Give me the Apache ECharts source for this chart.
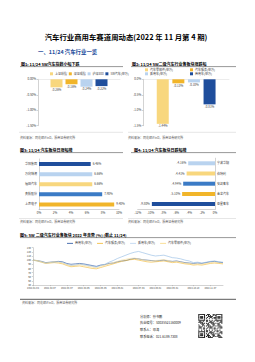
<!DOCTYPE html>
<html><head><meta charset="utf-8">
<script src="https://cdn.jsdelivr.net/npm/echarts@6/dist/echarts.min.js"></script>
<style>html,body{margin:0;padding:0;background:#fff}#c{width:255px;height:362px}</style>
</head><body><div id="c"></div>
<script>
// ---------- DATA ----------
const idxNames = ['上证综指', '深证成指', '沪深300', 'SW汽车(申万)'];
const idxValues = [-0.26, -0.16, -0.24, -0.22];

const subNames = ['汽车零部件(申万)', '汽车服务(申万)', '乘用车(申万)', '商用车(申万)'];
const subValues = [-1.44, -0.13, -0.10, -0.81];

const gainNames = ['华阳集团', '万向钱潮', '福田汽车', '贵航股份', '上声电子'];
const gainValues = [6.46, 6.66, 6.66, 7.90, 9.40];

const lossNames = ['宁波华翔', '伯特利', '安凯客车', '金龙汽车', '亚星客车'];
const lossValues = [-4.16, -4.41, -4.94, -5.10, -9.80];

const trendDates = ['2022-01-04','2022-01-10','2022-01-17','2022-01-24','2022-02-07','2022-02-14','2022-02-21','2022-02-28',
  '2022-03-07','2022-03-14','2022-03-21','2022-03-28','2022-04-06','2022-04-11','2022-04-18','2022-04-25',
  '2022-05-05','2022-05-09','2022-05-16','2022-05-23','2022-06-01','2022-06-06','2022-06-13','2022-06-20','2022-06-27',
  '2022-07-04','2022-07-11','2022-07-18','2022-07-25','2022-08-01','2022-08-08','2022-08-15','2022-08-22',
  '2022-09-01','2022-09-08','2022-09-15','2022-09-22','2022-09-29','2022-10-10','2022-10-17','2022-10-24','2022-10-31',
  '2022-11-07','2022-11-14','2022-11-21','2022-11-24'];
const trendNames = ['商用车(申万)', '汽车服务(申万)', '乘用车(申万)', '汽车零部件(申万)'];
const trendCommercial = [100,99,97,94,95,96,97,96,92,90,91,92,91,89,87,85,88,89,92,93,96,98,99,102,104,103,101,100,99,98,99,100,98,97,98,96,94,93,92,93,92,94,96,97,95,94];
const trendService    = [100,98,95,92,93,94,93,91,87,84,85,86,84,82,80,79,82,85,88,91,94,97,99,101,102,100,98,96,95,96,97,98,96,94,95,93,91,90,88,89,88,90,92,93,92,91];
const trendPassenger  = [100,98,96,93,94,95,96,94,90,87,88,90,89,87,85,83,87,90,95,99,104,108,112,116,119,121,118,115,112,110,111,112,109,106,105,103,100,98,94,95,93,95,97,98,96,95];
const trendParts      = [100,99,96,93,94,96,95,93,89,86,87,89,87,85,83,81,85,88,91,94,97,100,102,104,105,103,101,99,98,99,100,101,99,96,97,95,93,92,90,91,90,92,94,95,93,92];
const trendTicks = {min: 40, max: 130, interval: 10};

// ---------- STYLE ----------
const FONT = '"Noto Sans CJK SC","Noto Sans",sans-serif';
const C_LY = '#f8d77e', C_OR = '#f1b52a', C_LB = '#b9d3ef', C_MB = '#3b7bc6', C_DB = '#1f4e9c';
const idxColors = [C_LY, C_OR, C_LB, C_DB];
const subColors = [C_LY, C_OR, C_LB, C_DB];
const gainColors = [C_DB, C_LB, C_LY, C_MB, C_OR];
const lossColors = [C_LB, C_LY, C_MB, C_OR, C_DB];
const trendColors = [C_DB, C_OR, '#8fb8e3', '#f6dc95'];
const smallTxt = {fontSize: 3, color: '#404040', fontFamily: FONT};
const axisLineStyle = {lineStyle: {color: '#a6a6a6', width: 0.5}};

function pct2(v){ return v.toFixed(2) + '%'; }

const chart = echarts.init(document.getElementById('c'), null, {renderer: 'svg'});

const series = [];
idxNames.forEach((n, i) => series.push({
  type: 'bar', name: n, xAxisIndex: 0, yAxisIndex: 0, data: [idxValues[i]],
  barWidth: 12, barGap: '25%', itemStyle: {color: idxColors[i]},
  label: {show: true, position: 'bottom', distance: 1, ...smallTxt, formatter: p => pct2(p.value)}
}));
subNames.forEach((n, i) => series.push({
  type: 'bar', name: n, xAxisIndex: 1, yAxisIndex: 1, data: [subValues[i]],
  barWidth: 12, barGap: '30%', itemStyle: {color: subColors[i]},
  label: {show: true, position: 'bottom', distance: 1, ...smallTxt, formatter: p => pct2(p.value)}
}));
series.push({
  type: 'bar', xAxisIndex: 2, yAxisIndex: 2, barWidth: 4,
  data: gainValues.map((v, i) => ({value: v, itemStyle: {color: gainColors[i]}})),
  label: {show: true, position: 'right', distance: 2, ...smallTxt, formatter: p => pct2(p.value)}
});
series.push({
  type: 'bar', xAxisIndex: 3, yAxisIndex: 3, barWidth: 4,
  data: lossValues.map((v, i) => ({value: v, itemStyle: {color: lossColors[i]}})),
  label: {show: true, position: 'left', distance: 2, ...smallTxt, formatter: p => pct2(p.value)}
});
[trendCommercial, trendService, trendPassenger, trendParts].forEach((d, i) => series.push({
  type: 'line', name: trendNames[i], xAxisIndex: 4, yAxisIndex: 4, data: d,
  showSymbol: false, lineStyle: {width: 0.6, color: trendColors[i]}, itemStyle: {color: trendColors[i]}
}));

function monthLabel(index, value){
  return index === 0 || value.slice(5, 7) !== trendDates[index - 1].slice(5, 7);
}

const noAxis = {show: true, axisLine: {show: false}, axisTick: {show: false}, axisLabel: {show: false}, splitLine: {show: false}};

// texts & decorations
const g = [];
function txt(t, x, y, size, opt){
  g.push({type: 'text', x: x, y: y, silent: true, style: Object.assign({text: t, font: (opt && opt.bold ? 'bold ' : '') + size + 'px ' + FONT,
    fill: (opt && opt.fill) || '#000', textAlign: (opt && opt.align) || 'left', textVerticalAlign: 'middle'})});
}
function hline(x1, x2, y, w, c){
  g.push({type: 'line', silent: true, shape: {x1: x1, y1: y, x2: x2, y2: y}, style: {stroke: c, lineWidth: w}});
}
txt('汽车行业商用车赛道周动态(2022 年 11 月第 4 期)', 126, 36, 7.4, {bold: true, align: 'center'});
txt('一、11/24 汽车行业一览', 38, 51.7, 5.4, {bold: true, fill: '#1f4e9c'});
txt('图1: 11/24 SW汽车指数小幅下跌', 21, 64, 4, {bold: true});
txt('图2: 11/24 SW二级汽车行业各板块涨跌幅', 132, 64, 4, {bold: true});
txt('图3: 11/24 汽车板块日涨幅榜', 20, 150, 4, {bold: true});
txt('图4: 11/24 汽车板块日跌幅榜', 134, 150, 4, {bold: true});
txt('图5: SW 二级汽车行业各板块 2022 年走势 (%) (截止 11/24)', 20, 235, 4, {bold: true});
hline(20, 123, 66.6, 0.5, '#333');
hline(131, 236, 66.6, 0.5, '#333');
hline(20, 123, 152.6, 0.5, '#333');
hline(131, 236, 152.6, 0.5, '#333');
hline(20, 236, 237.6, 0.5, '#333');
hline(19, 123, 132.3, 0.4, '#bfbfbf');
hline(128, 236, 132.3, 0.4, '#bfbfbf');
hline(19, 123, 218.5, 0.4, '#bfbfbf');
hline(128, 236, 218.5, 0.4, '#bfbfbf');
hline(20, 236, 299.3, 1, '#595959');
const SRC = '资料来源：同花顺iFinD，浙商证券研究所';
txt(SRC, 20, 137.6, 3, {fill: '#595959'});
txt(SRC, 128, 137.6, 3, {fill: '#595959'});
txt(SRC, 20, 221.7, 3, {fill: '#595959'});
txt(SRC, 128, 221.7, 3, {fill: '#595959'});
txt(SRC, 22, 303.3, 3, {fill: '#595959'});
txt('分析师：孙书鹏', 140, 316.7, 3.2, {fill: '#262626'});
txt('执业编号：S0035521160009', 140, 322.7, 3.2, {fill: '#262626'});
txt('联系人：邓涛', 140, 329.3, 3.2, {fill: '#262626'});
txt('联系电话：021-6189-7308', 140, 336.3, 3.2, {fill: '#262626'});
// decorative QR-like block
(function(){
  const N = 25, ox = 198.3, oy = 314, s = 24 / N;
  function finder(cx, cy){ return (i, j) => { const a = i - cx, b = j - cy; if (a < 0 || b < 0 || a > 6 || b > 6) return null;
    return (a === 0 || a === 6 || b === 0 || b === 6 || (a >= 2 && a <= 4 && b >= 2 && b <= 4)); }; }
  const fs = [finder(0, 0), finder(N - 7, 0), finder(0, N - 7)];
  for (let i = 0; i < N; i++) for (let j = 0; j < N; j++) {
    let on = null;
    for (const f of fs) { const r = f(i, j); if (r !== null) on = r; }
    if (on === null) on = ((i * 31 + j * 17 + i * j * 7) % 11) < 5;
    if (on) g.push({type: 'rect', silent: true, shape: {x: ox + i * s, y: oy + j * s, width: s + 0.05, height: s + 0.05}, style: {fill: '#1a1a1a'}});
  }
})();

const option = {
  backgroundColor: '#fff',
  animation: false,
  textStyle: {fontFamily: FONT},
  grid: [
    {left: 38, top: 79.3, width: 82, height: 46.4, outerBoundsMode: 'none'},
    {left: 143.3, top: 79.3, width: 85.7, height: 46.4, outerBoundsMode: 'none'},
    {left: 39, top: 159, width: 80, height: 50.5, outerBoundsMode: 'none'},
    {left: 137.7, top: 158.2, width: 77.3, height: 51, outerBoundsMode: 'none'},
    {left: 33, top: 247.7, width: 190, height: 37.3, outerBoundsMode: 'none'}
  ],
  legend: [
    {data: idxNames, left: 50, top: 72.3, padding: 0, itemWidth: 3, itemHeight: 3, itemGap: 1.8, icon: 'rect', textStyle: {...smallTxt, padding: [0, 0, 0, -3]}, selectedMode: false},
    {data: [subNames[0], subNames[2]], orient: 'vertical', left: 145, top: 68.3, padding: 0, itemWidth: 3, itemHeight: 3, itemGap: 1, icon: 'rect', textStyle: {...smallTxt, padding: [0, 0, 0, -3]}, selectedMode: false},
    {data: [subNames[1], subNames[3]], orient: 'vertical', left: 190, top: 68.3, padding: 0, itemWidth: 3, itemHeight: 3, itemGap: 1, icon: 'rect', textStyle: {...smallTxt, padding: [0, 0, 0, -3]}, selectedMode: false},
    {data: trendNames, left: 67, top: 241.8, padding: 0, itemWidth: 6, itemHeight: 0.8, itemGap: 5, icon: 'rect', textStyle: {...smallTxt, padding: [0, 0, 0, -3]}, selectedMode: false}
  ],
  xAxis: [
    {gridIndex: 0, type: 'category', data: ['SW'], ...noAxis, axisLine: {show: true, onZero: true, lineStyle: {color: '#d9d9d9', width: 0.5}}},
    {gridIndex: 1, type: 'category', data: ['SW2'], ...noAxis, axisLine: {show: true, onZero: true, lineStyle: {color: '#d9d9d9', width: 0.5}}},
    {gridIndex: 2, type: 'value', min: 0, max: 10, interval: 2, axisLine: {show: true, ...axisLineStyle}, axisTick: {show: false},
      axisLabel: {...smallTxt, margin: 2, formatter: '{value}%'}, splitLine: {show: false}},
    {gridIndex: 3, type: 'value', min: -12, max: 0, interval: 2, axisLine: {show: true, ...axisLineStyle}, axisTick: {show: false},
      axisLabel: {...smallTxt, margin: 2, formatter: '{value}%'}, splitLine: {show: false}},
    {gridIndex: 4, type: 'category', data: trendDates, boundaryGap: false, axisLine: {show: true, ...axisLineStyle},
      axisTick: {show: true, length: 1.2, interval: monthLabel, lineStyle: {color: '#a6a6a6', width: 0.5}},
      axisLabel: {...smallTxt, fontSize: 2.3, margin: 2, interval: monthLabel, hideOverlap: false}, splitLine: {show: false}}
  ],
  yAxis: [
    {gridIndex: 0, type: 'value', min: -1.5, max: 0, interval: 0.5, axisLine: {show: true, ...axisLineStyle},
      axisTick: {show: true, length: 1.5, lineStyle: {color: '#a6a6a6', width: 0.5}},
      axisLabel: {...smallTxt, margin: 2, formatter: v => v.toFixed(2) + '%'}, splitLine: {show: false}},
    {gridIndex: 1, type: 'value', min: -1.5, max: 0, interval: 0.5, axisLine: {show: true, ...axisLineStyle},
      axisTick: {show: true, length: 1.5, lineStyle: {color: '#a6a6a6', width: 0.5}},
      axisLabel: {...smallTxt, margin: 2, formatter: v => v.toFixed(1) + '%'}, splitLine: {show: false}},
    {gridIndex: 2, type: 'category', inverse: true, data: gainNames, axisLine: {show: true, ...axisLineStyle}, axisTick: {show: false},
      axisLabel: {...smallTxt, margin: 2}},
    {gridIndex: 3, type: 'category', inverse: true, position: 'right', data: lossNames, axisLine: {show: true, ...axisLineStyle}, axisTick: {show: false},
      axisLabel: {...smallTxt, margin: 2}},
    {gridIndex: 4, type: 'value', min: trendTicks.min, max: trendTicks.max, interval: trendTicks.interval, axisLine: {show: true, ...axisLineStyle},
      axisTick: {show: true, length: 1.2, lineStyle: {color: '#a6a6a6', width: 0.5}},
      axisLabel: {...smallTxt, fontSize: 2.5, margin: 2}, splitLine: {show: false}}
  ],
  series: series,
  graphic: {elements: g}
};
chart.setOption(option);
</script>
</body></html>
